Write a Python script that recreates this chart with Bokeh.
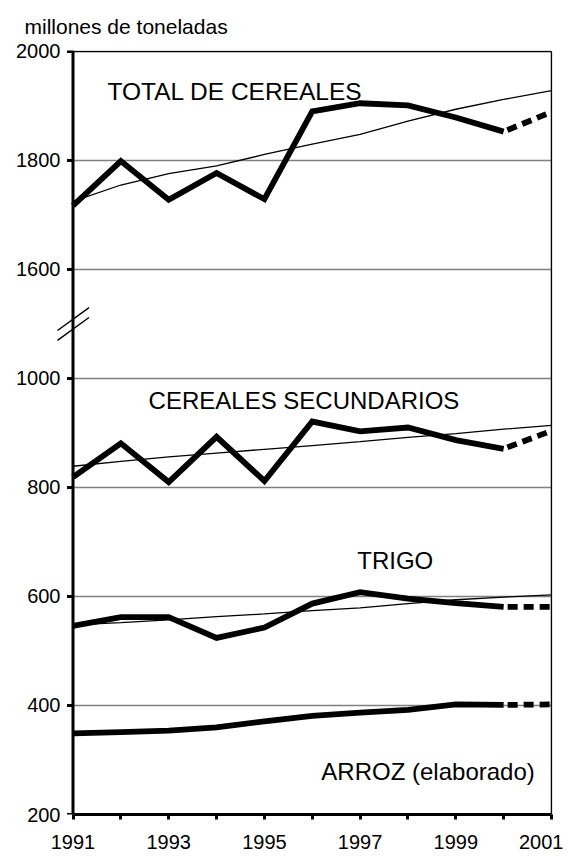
from bokeh.plotting import figure
from bokeh.models import FixedTicker, Label, Range1d
from bokeh.embed import file_html
from bokeh.resources import INLINE

# ---------------- data (millones de toneladas) ----------------
years = [1991, 1992, 1993, 1994, 1995, 1996, 1997, 1998, 1999, 2000, 2001]
total = [1717, 1799, 1728, 1777, 1729, 1890, 1905, 1901, 1879, 1853, 1889]
total_trend = [1725, 1755, 1776, 1790, 1811, 1830, 1848, 1872, 1894, 1912, 1928]
secundarios = [819, 881, 810, 893, 812, 921, 903, 910, 887, 871, 904]
secundarios_trend = [839, 848, 856, 863, 870, 877, 884, 892, 899, 907, 914]
trigo = [546, 562, 562, 524, 543, 587, 608, 596, 588, 581, 581]
trigo_trend = [548, 552, 557, 563, 568, 574, 579, 587, 594, 599, 603]
arroz = [349, 351, 354, 360, 371, 381, 387, 392, 402, 401, 402]

y_tick_values = [200, 400, 600, 800, 1000, 1600, 1800, 2000]
y_grid_values = [400, 600, 800, 1000, 1600, 1800]
x_tick_labels = ["1991", "", "1993", "", "1995", "", "1997", "", "1999", "", "2001"]

# axis break: values above the break are shifted down
BREAK_LOW = 1000
BREAK_SHIFT = 400          # 1600 drawn where 1200 would be
BREAK_MARK = 1100


def to_axis(v):
    return v if v <= BREAK_LOW else v - BREAK_SHIFT


FONT = "Liberation Sans"
X0, X1 = years[0], years[-1]
Y0, Y1 = to_axis(y_tick_values[0]), to_axis(y_tick_values[-1])
PX_X = 1 / 47.85   # one pixel in years

p = figure(width=563, height=856, output_backend="svg", toolbar_location=None,
           x_range=Range1d(X0 - 16.5 * PX_X, X1 + PX_X), y_range=Range1d(Y0, Y1 + 1.8),
           min_border_left=56, min_border_right=11, min_border_top=49,
           min_border_bottom=42)
p.background_fill_color = "white"
p.border_fill_color = "white"
p.outline_line_color = None

# unit label
p.title.text = "millones de toneladas"
p.title.align = "left"
p.title.offset = -32
p.title.text_font = FONT
p.title.text_font_size = "21px"
p.title.text_font_style = "normal"
p.title.text_color = "black"
p.title.standoff = 25

# axes
p.xaxis.ticker = FixedTicker(ticks=years)
p.xaxis.major_label_overrides = {y: l for y, l in zip(years, x_tick_labels)}
p.xaxis.bounds = (X0, X1)
p.yaxis.ticker = FixedTicker(ticks=[to_axis(v) for v in y_tick_values])
p.yaxis.major_label_overrides = {to_axis(v): str(v) for v in y_tick_values}
for ax in (p.xaxis, p.yaxis):
    ax.axis_line_color = "black"
    ax.axis_line_width = 3
    ax.major_tick_line_color = "black"
    ax.major_tick_line_width = 3
    ax.major_tick_in = 0
    ax.minor_tick_line_color = None
    ax.major_label_text_font = FONT
    ax.major_label_text_font_size = "20px"
    ax.major_label_text_color = "black"
p.xaxis.major_tick_out = 5
p.xaxis.major_label_standoff = 15
# y axis line / ticks drawn at x = 1991 inside the (slightly wider) frame
p.yaxis.axis_line_color = None
p.yaxis.major_tick_line_color = None
p.yaxis.major_tick_out = 0
p.yaxis.major_label_standoff = -4

p.xgrid.grid_line_color = None
p.ygrid.grid_line_color = None

# horizontal grid lines and frame (top / right)
gy = [to_axis(v) for v in y_grid_values]
p.segment(x0=[X0] * len(gy), x1=[X1] * len(gy), y0=gy, y1=gy,
          line_color="#808080", line_width=1.5)
p.segment(x0=[X0, X1], x1=[X1, X1], y0=[Y1, Y0], y1=[Y1, Y1],
          line_color="black", line_width=1.5)

# y axis line and ticks
ty = [to_axis(v) for v in y_tick_values]
p.segment(x0=[X0 - 6 * PX_X] * len(ty), x1=[X0] * len(ty), y0=ty, y1=ty,
          line_color="black", line_width=3)
p.segment(x0=[X0], x1=[X0], y0=[Y0], y1=[Y1 + 1.5], line_color="black", line_width=3)


def series(vals, trend):
    ys = [to_axis(v) for v in vals]
    if trend is not None:
        p.line(years, [to_axis(v) for v in trend], line_color="black", line_width=1.3)
    p.line(years[:-1], ys[:-1], line_color="black", line_width=5.8, line_join="miter")
    p.line(years[-2:], ys[-2:], line_color="black", line_width=5.8,
           line_dash="10 6", line_dash_offset=-4, line_cap="butt")


series(total, total_trend)
series(secundarios, secundarios_trend)
series(trigo, trigo_trend)
series(arroz, None)

# axis break marks
for dy in (9, -9):
    p.segment(x0=[X0 - 15.5 * PX_X], y0=[BREAK_MARK + dy - 21],
              x1=[X0 + 16 * PX_X], y1=[BREAK_MARK + dy + 21],
              line_color="black", line_width=1.4)

labels = [
    ("TOTAL DE CEREALES", 1991.72, 1526.5, "24.5px"),
    ("CEREALES SECUNDARIOS", 1992.58, 960.5, "24px"),
    ("TRIGO", 1996.94, 665.4, "24px"),
    ("ARROZ (elaborado)", 1996.19, 279.3, "24px"),
]
for txt, lx, ly, fs in labels:
    p.add_layout(Label(x=lx, y=ly, text=txt, text_font=FONT,
                       text_font_size=fs, text_baseline="alphabetic",
                       text_color="black"))

open("out.html", "w").write(file_html(p, INLINE))
